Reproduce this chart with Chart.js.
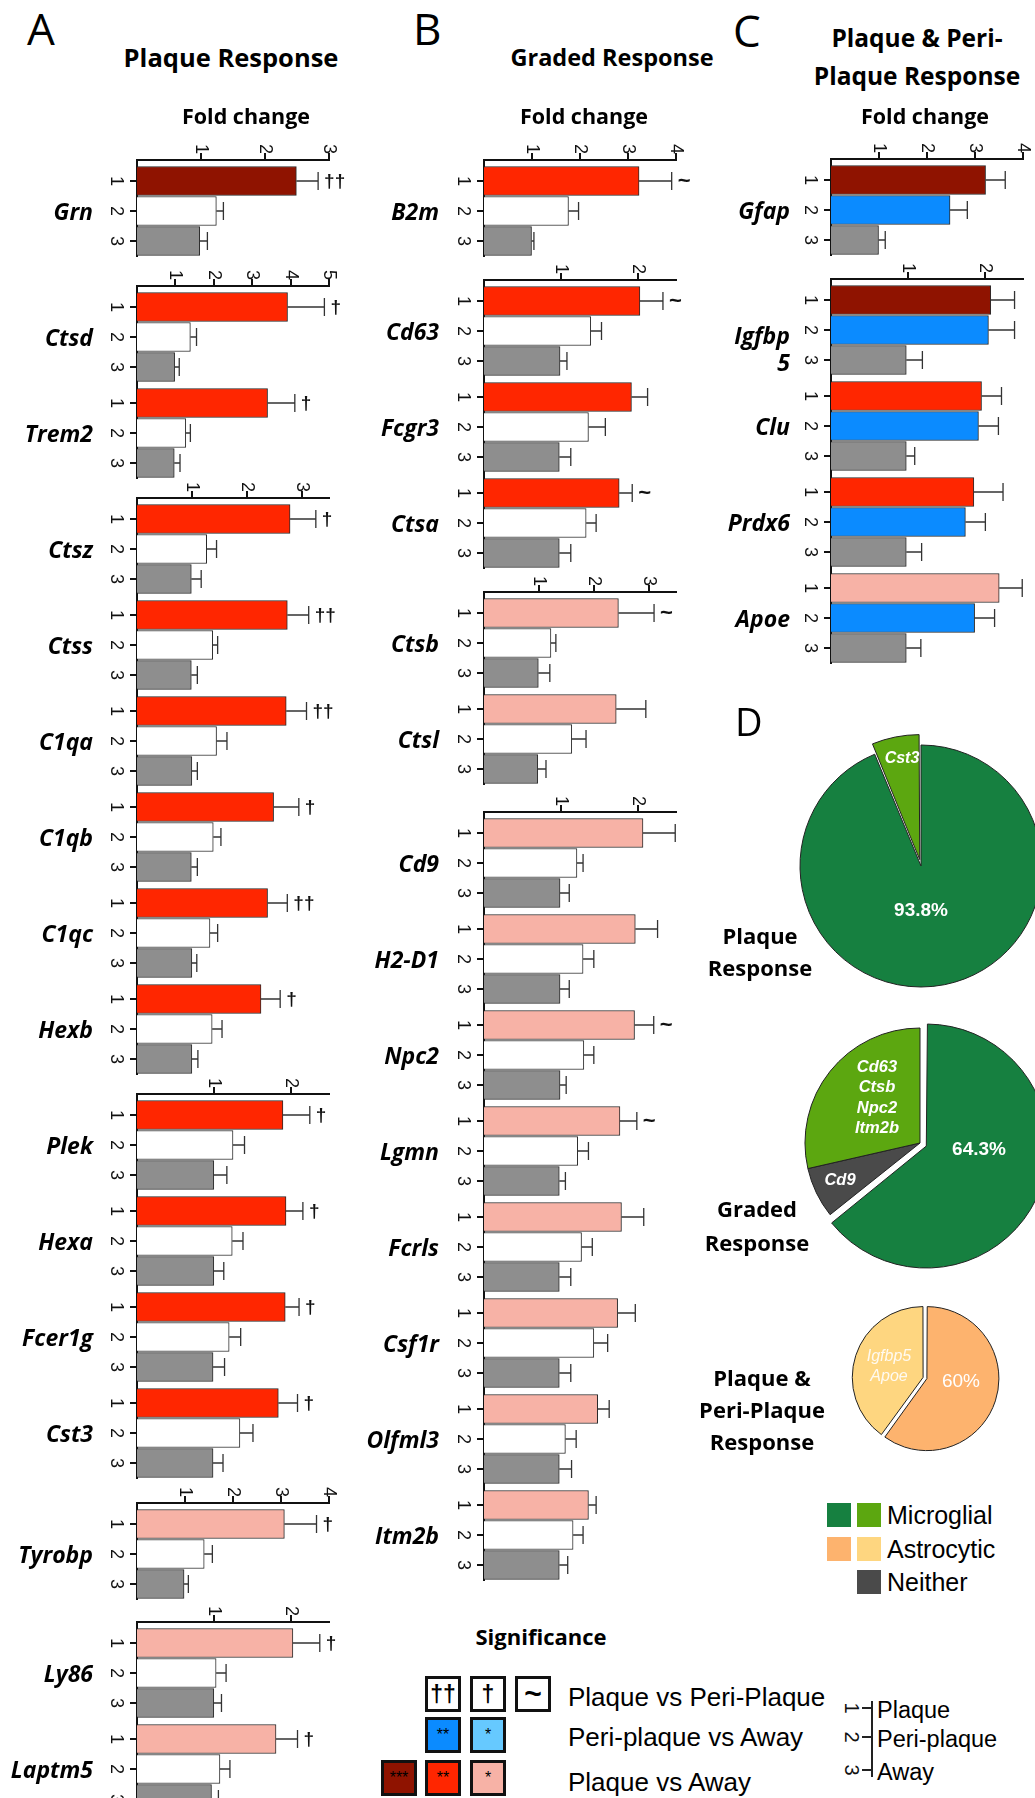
<!DOCTYPE html>
<html>
<head>
<meta charset="utf-8">
<script src="https://cdn.jsdelivr.net/npm/chart.js@4.4.1/dist/chart.umd.min.js"></script>
<style>
html,body{margin:0;padding:0;background:#fff;}
body{position:relative;width:1035px;height:1798px;overflow:hidden;font-family:'Liberation Sans',sans-serif;}
canvas{position:absolute;}
.t{position:absolute;white-space:pre;line-height:1;z-index:2;}
.box{position:absolute;box-sizing:border-box;border:3px solid #111;display:flex;align-items:center;justify-content:center;font-family:'Liberation Sans';}
.sq{position:absolute;width:24px;height:24px;}
.ln{position:absolute;background:#222;}
</style>
</head>
<body>
<script>
// ---- data: fold change (mean) and SEM for plaque (1), peri-plaque (2), away (3) ----

// Panel A - plaque response
const genesA     = ['Grn','Ctsd','Trem2','Ctsz','Ctss','C1qa','C1qb','C1qc','Hexb','Plek','Hexa','Fcer1g','Cst3','Tyrobp','Ly86','Laptm5'];
const plaqueA    = [2.49,3.92,3.40,2.79,2.74,2.72,2.49,2.38,2.26,1.90,1.94,1.93,1.84,3.07,2.03,1.81];
const plaqueSemA = [0.34,0.96,0.71,0.47,0.39,0.37,0.46,0.36,0.35,0.35,0.22,0.18,0.25,0.67,0.35,0.28];
const periA      = [1.24,1.39,1.27,1.27,1.38,1.45,1.39,1.33,1.37,1.25,1.24,1.20,1.34,1.40,1.03,1.08];
const periSemA   = [0.11,0.16,0.12,0.18,0.09,0.19,0.14,0.14,0.18,0.15,0.14,0.15,0.17,0.17,0.13,0.13];
const awayA      = [0.98,0.98,0.97,0.99,0.99,1.00,0.99,1.00,1.00,1.00,1.00,0.99,0.99,0.98,1.00,0.97];
const awaySemA   = [0.12,0.12,0.15,0.18,0.11,0.10,0.11,0.09,0.11,0.17,0.13,0.15,0.13,0.09,0.10,0.09];
const levelA     = ['***','**','**','**','**','**','**','**','**','**','**','**','**','*','*','*'];
const markA      = ['††','†','†','†','††','††','†','††','†','†','†','†','†','†','†','†'];
const blocksA    = [1,2,6,4,1,2];
const axisMaxA   = [3,5,3.5,2.5,4,2.5];

// Panel B - graded response
const genesB     = ['B2m','Cd63','Fcgr3','Ctsa','Ctsb','Ctsl','Cd9','H2-D1','Npc2','Lgmn','Fcrls','Csf1r','Olfml3','Itm2b'];
const plaqueB    = [3.23,2.03,1.92,1.76,2.45,2.41,2.07,1.97,1.96,1.77,1.79,1.74,1.48,1.36];
const plaqueSemB = [0.68,0.30,0.21,0.17,0.65,0.54,0.42,0.29,0.25,0.22,0.29,0.23,0.15,0.10];
const periB      = [1.76,1.39,1.36,1.33,1.22,1.60,1.21,1.29,1.30,1.22,1.27,1.43,1.06,1.16];
const periSemB   = [0.21,0.14,0.22,0.13,0.09,0.26,0.08,0.14,0.13,0.14,0.14,0.18,0.14,0.13];
const awayB      = [0.99,0.99,0.98,0.98,0.99,0.98,0.99,0.99,0.99,0.98,0.98,0.98,0.98,0.98];
const awaySemB   = [0.05,0.09,0.15,0.15,0.21,0.15,0.12,0.12,0.08,0.08,0.15,0.15,0.16,0.11];
const levelB     = ['**','**','**','**','*','*','*','*','*','*','*','*','*','*'];
const markB      = ['~','~','','~','~','','','','~','~','','','',''];
const blocksB    = [1,3,2,8];
const axisMaxB   = [4,2.5,3.5,2.5];

// Panel C - plaque & peri-plaque response
const genesC     = ['Gfap','Igfbp5','Clu','Prdx6','Apoe'];
const plaqueC    = [3.22,2.08,1.96,1.86,2.19];
const plaqueSemC = [0.41,0.31,0.26,0.38,0.30];
const periC      = [2.48,2.05,1.92,1.75,1.87];
const periSemC   = [0.36,0.34,0.26,0.26,0.26];
const awayC      = [0.99,0.98,0.98,0.98,0.98];
const awaySemC   = [0.14,0.21,0.11,0.20,0.19];
const levelC     = ['***','***','**','**','*'];
const periLevelC = ['**','**','**','**','**'];
const markC      = ['','','','',''];
const blocksC    = [1,4];
const axisMaxC   = [4,2.5];

// Panel D - cell-type share of each response class (gene counts)
const pie1Names  = ['Microglial','Cst3'];
const pie1Counts = [15,1];
const pie2Names  = ['Microglial','Cd9','Cd63\nCtsb\nNpc2\nItm2b'];
const pie2Counts = [9,1,4];
const pie3Names  = ['Astrocytic','Igfbp5\nApoe'];
const pie3Counts = [3,2];
const pieTitles  = ['Plaque\nResponse','Graded\nResponse','Plaque &\nPeri-Plaque\nResponse'];

const cellTypes  = ['Microglial','Astrocytic','Neither'];
const sigRows    = ['Plaque vs Peri-Plaque','Peri-plaque vs Away','Plaque vs Away'];
const keyLabels  = ['Plaque','Peri-plaque','Away'];

// ---- styles ----
const LEVEL = {'***':'#8f1300','**':'#ff2600','*':'#f7b2a6'};
const PERI  = {'**':'#0b8bff','*':'#66c9ff'};
const GREY = '#8e8e8e', DG = '#168040', LG = '#5ca710', OR = '#fdb36e', YE = '#fed680', NG = '#4a4a4a';
const BAND = 30, STEP = 3.2, LEFT = 45, TOP = 32, PLOT_W = 192, RIGHT = 50;
const TITLE = '"Open Sans", Lato, sans-serif', ARIAL = '"Liberation Sans", Arial, sans-serif';

Chart.defaults.font.family = ARIAL;

function txt(s, x, y, font, align, color, extra) {
  const d = document.createElement('div');
  d.className = 't'; d.textContent = s;
  d.style.font = font; d.style.color = color || '#000';
  d.style.left = x + 'px'; d.style.top = y + 'px';
  const tx = align === 'l' ? 0 : align === 'r' ? -100 : -50;
  d.style.transform = `translate(${tx}%,-50%)` + (extra || '');
  d.style.textAlign = align === 'l' ? 'left' : align === 'r' ? 'right' : 'center';
  document.body.appendChild(d);
  return d;
}
function addCanvas(x, y, w, h) {
  const c = document.createElement('canvas');
  c.width = w; c.height = h;
  c.style.left = x + 'px'; c.style.top = y + 'px';
  document.body.appendChild(c);
  return c;
}

// error bars, significance marks and the rotated tick labels
function decor(bars) {
  return {id: 'decor', afterDraw(chart) {
    const {ctx, chartArea: a} = chart, xs = chart.scales.x, ys = chart.scales.y;
    ctx.save();
    ctx.strokeStyle = '#333'; ctx.lineWidth = 1.3; ctx.fillStyle = '#111';
    bars.forEach(b => {
      const y = ys.getPixelForValue(b.pos), x0 = xs.getPixelForValue(b.v), x1 = xs.getPixelForValue(b.v + b.e);
      ctx.beginPath(); ctx.moveTo(x0, y); ctx.lineTo(x1, y); ctx.moveTo(x1, y - 9); ctx.lineTo(x1, y + 9); ctx.stroke();
      if (b.mark) {
        ctx.font = b.mark === '~' ? 'bold 22px ' + ARIAL : 'bold 19px ' + ARIAL;
        ctx.textAlign = 'left'; ctx.textBaseline = 'middle';
        ctx.fillText(b.mark, x1 + 6, y + 1);
      }
    });
    ctx.font = '18px ' + ARIAL;
    const rot = (s, x, y, al) => { ctx.save(); ctx.translate(x, y); ctx.rotate(Math.PI / 2); ctx.textAlign = al; ctx.textBaseline = 'middle'; ctx.fillText(s, 0, 0); ctx.restore(); };
    xs.ticks.forEach(t => rot(String(t.value), xs.getPixelForValue(t.value), a.top - 6, 'right'));
    bars.forEach(b => rot(b.lab, a.left - 21, ys.getPixelForValue(b.pos), 'center'));
    ctx.restore();
  }};
}

function panel(p) {
  let start = 0;
  p.blocks.forEach((n, bi) => {
    const bars = [];
    for (let g = 0; g < n; g++) {
      const i = start + g;
      const rows = [
        {v: p.plaque[i], e: p.plaqueSem[i], c: LEVEL[p.level[i]], mark: p.mark[i]},
        {v: p.peri[i], e: p.periSem[i], c: p.periLevel ? PERI[p.periLevel[i]] : '#fff', mark: ''},
        {v: p.away[i], e: p.awaySem[i], c: GREY, mark: ''}];
      rows.forEach((r, k) => bars.push(Object.assign(r, {pos: g * STEP + k, lab: String(k + 1)})));
    }
    const lastPos = (n - 1) * STEP + 2;
    const H = TOP + Math.round((lastPos + 1.2) * BAND) + 2;
    const left = p.axisX - LEFT, top = p.axisY[bi] - TOP;
    const cv = addCanvas(left, top, LEFT + PLOT_W + RIGHT, H);
    const axisLine = {display: true, color: '#111', width: 2};
    const grid = {drawOnChartArea: false, drawTicks: true, tickLength: 7, color: '#111', lineWidth: 2, offset: false};
    const chart = new Chart(cv, {
      type: 'bar',
      data: {datasets: [{
        data: bars.map(b => ({x: b.v, y: b.pos})),
        backgroundColor: bars.map(b => b.c),
        borderColor: '#2a2a2a', borderWidth: 1, barThickness: 29, borderSkipped: 'start'
      }]},
      options: {
        indexAxis: 'y', responsive: false, animation: false, events: [],
        layout: {padding: {left: 0, right: RIGHT, top: 0, bottom: 2}, autoPadding: false},
        plugins: {legend: {display: false}, tooltip: {enabled: false}},
        scales: {
          x: {type: 'linear', position: 'top', min: 0, max: p.axisMax[bi], offset: false,
              ticks: {display: false, stepSize: 1, includeBounds: false},
              afterBuildTicks: s => { s.ticks = s.ticks.filter(t => t.value >= 1 && Number.isInteger(t.value)); },
              afterFit: s => { s.height = TOP; },
              grid: grid, border: axisLine},
          y: {type: 'linear', position: 'left', reverse: true, min: -0.7, max: lastPos + 0.5, offset: false,
              ticks: {display: false},
              afterBuildTicks: s => { s.ticks = bars.map(b => ({value: b.pos})); },
              afterFit: s => { s.width = LEFT; },
              grid: grid, border: axisLine}
        }
      },
      plugins: [decor(bars)]
    });
    for (let g = 0; g < n; g++) {
      const name = p.genes[start + g];
      const label = (p.wrap && p.wrap[name]) || name;
      const cy = top + chart.scales.y.getPixelForValue(g * STEP + 1);
      const two = label.includes('\n');
      txt(label, p.axisX - p.gap, two ? cy + 19 : cy, 'italic bold 23px/27px ' + TITLE, 'r');
    }
    start += n;
  });
}

// ---- panels A, B, C ----
panel({genes: genesA, plaque: plaqueA, plaqueSem: plaqueSemA, peri: periA, periSem: periSemA, away: awayA, awaySem: awaySemA,
       level: levelA, mark: markA, blocks: blocksA, axisMax: axisMaxA, axisX: 137, gap: 44, axisY: [160,286,498,1094,1503,1622]});
panel({genes: genesB, plaque: plaqueB, plaqueSem: plaqueSemB, peri: periB, periSem: periSemB, away: awayB, awaySem: awaySemB,
       level: levelB, mark: markB, blocks: blocksB, axisMax: axisMaxB, axisX: 484, gap: 45, axisY: [160,280,592,812]});
panel({genes: genesC, plaque: plaqueC, plaqueSem: plaqueSemC, peri: periC, periSem: periSemC, away: awayC, awaySem: awaySemC,
       level: levelC, periLevel: periLevelC, mark: markC, blocks: blocksC, axisMax: axisMaxC, axisX: 831, gap: 41, axisY: [159,279],
       wrap: {Igfbp5: 'Igfbp\n5'}});

// ---- panel D pies ----
function pie(names, counts, colors, offsets, cx, cy, r) {
  const S = Math.ceil(r + 22) * 2;
  const cv = addCanvas(Math.round(cx - S / 2), Math.round(cy - S / 2), S, S);
  new Chart(cv, {
    type: 'pie',
    data: {labels: names, datasets: [{data: counts, backgroundColor: colors, borderColor: '#222', borderWidth: 1, offset: offsets, radius: r}]},
    options: {responsive: false, animation: false, events: [], layout: {padding: 0},
              plugins: {legend: {display: false}, tooltip: {enabled: false}}}
  });
}
const pct = c => (Math.round(c[0] / c.reduce((s, v) => s + v, 0) * 1000) / 10) + '%';

pie(pie1Names, pie1Counts, [DG, LG], [0, 26], 921, 866, 121);
pie(pie2Names, pie2Counts, [DG, NG, LG], [28, 0, 0], 920, 1143, 115);
pie(pie3Names, pie3Counts, [OR, YE], [8, 8], 925, 1378, 70);

txt(pie1Names[1], 902, 758, 'italic bold 16px ' + ARIAL, 'c', '#fff');
txt(pct(pie1Counts), 921, 910, 'bold 19px ' + ARIAL, 'c', '#fff');
txt(pie2Names[2], 877, 1097, 'italic bold 16.5px/20.3px ' + ARIAL, 'c', '#fff');
txt(pie2Names[1], 840, 1179, 'italic bold 16.5px ' + ARIAL, 'c', '#fff');
txt(pct(pie2Counts), 979, 1149, 'bold 19px ' + ARIAL, 'c', '#fff');
txt(pie3Names[1], 889, 1366, 'italic 16px/20px ' + ARIAL, 'c', '#fffaf0');
txt(pct(pie3Counts), 961, 1381, '19px ' + ARIAL, 'c', '#fff');

txt(pieTitles[0], 760, 951, 'bold 22px/32px ' + TITLE, 'c');
txt(pieTitles[1], 757, 1225, 'bold 22px/34px ' + TITLE, 'c');
txt(pieTitles[2], 762, 1409, 'bold 22px/32px ' + TITLE, 'c');

// cell-type legend
[[DG, LG], [OR, YE], [null, NG]].forEach((cols, r) => {
  const y = 1503 + r * 33.5;
  cols.forEach((c, k) => {
    if (!c) return;
    const s = document.createElement('div'); s.className = 'sq';
    s.style.left = (827 + k * 30) + 'px'; s.style.top = y + 'px'; s.style.background = c;
    document.body.appendChild(s);
  });
  txt(cellTypes[r], 887, y + 12, '25px ' + ARIAL, 'l');
});

// ---- headings ----
txt('A', 27, 28, '44px ' + TITLE, 'l');
txt('B', 413, 28, '44px ' + TITLE, 'l');
txt('C', 733, 30, '44px ' + TITLE, 'l');
txt('D', 735, 721, '38px ' + TITLE, 'l');
txt('Plaque Response', 231, 57, 'bold 25.5px ' + TITLE, 'c');
txt('Graded Response', 612, 57, 'bold 23.5px ' + TITLE, 'c');
txt('Plaque & Peri-\nPlaque Response', 917, 57, 'bold 24.5px/38px ' + TITLE, 'c');
txt('Fold change', 246, 115, 'bold 21.5px ' + TITLE, 'c');
txt('Fold change', 584, 115, 'bold 21.5px ' + TITLE, 'c');
txt('Fold change', 925, 115, 'bold 21.5px ' + TITLE, 'c');

// ---- significance legend ----
txt('Significance', 541, 1636, 'bold 22px ' + TITLE, 'c');
const sigBoxes = [
  [{s: '††', x: 425, bg: '#fff', f: 'bold 23px'}, {s: '†', x: 470, bg: '#fff', f: 'bold 23px'}, {s: '~', x: 515, bg: '#fff', f: 'bold 30px'}],
  [{s: '**', x: 425, bg: PERI['**'], f: '16px'}, {s: '*', x: 470, bg: PERI['*'], f: '16px'}],
  [{s: '***', x: 381, bg: LEVEL['***'], f: '16px'}, {s: '**', x: 425, bg: LEVEL['**'], f: '16px'}, {s: '*', x: 470, bg: LEVEL['*'], f: '16px'}]
];
const sigY = [1676, 1717, 1760];
sigBoxes.forEach((row, r) => {
  row.forEach(b => {
    const d = document.createElement('div'); d.className = 'box';
    d.style.left = b.x + 'px'; d.style.top = sigY[r] + 'px'; d.style.width = '36px'; d.style.height = '36px';
    d.style.background = b.bg; d.style.font = b.f + ' ' + ARIAL; d.textContent = b.s;
    document.body.appendChild(d);
  });
  txt(sigRows[r], 568, [1697, 1737, 1782][r], '26px ' + ARIAL, 'l');
});

// 1/2/3 key
const keyY = [1708, 1737, 1770];
const vl = document.createElement('div'); vl.className = 'ln';
vl.style.left = '871px'; vl.style.top = '1701px'; vl.style.width = '2px'; vl.style.height = '76px';
document.body.appendChild(vl);
keyY.forEach((y, i) => {
  const tk = document.createElement('div'); tk.className = 'ln';
  tk.style.left = '862px'; tk.style.top = (y - 1) + 'px'; tk.style.width = '9px'; tk.style.height = '2px';
  document.body.appendChild(tk);
  txt(String(i + 1), 851, y, '20px ' + ARIAL, 'c', '#111', ' rotate(90deg)');
  txt(keyLabels[i], 877, y + 2, '23.5px ' + ARIAL, 'l');
});
</script>
</body>
</html>
